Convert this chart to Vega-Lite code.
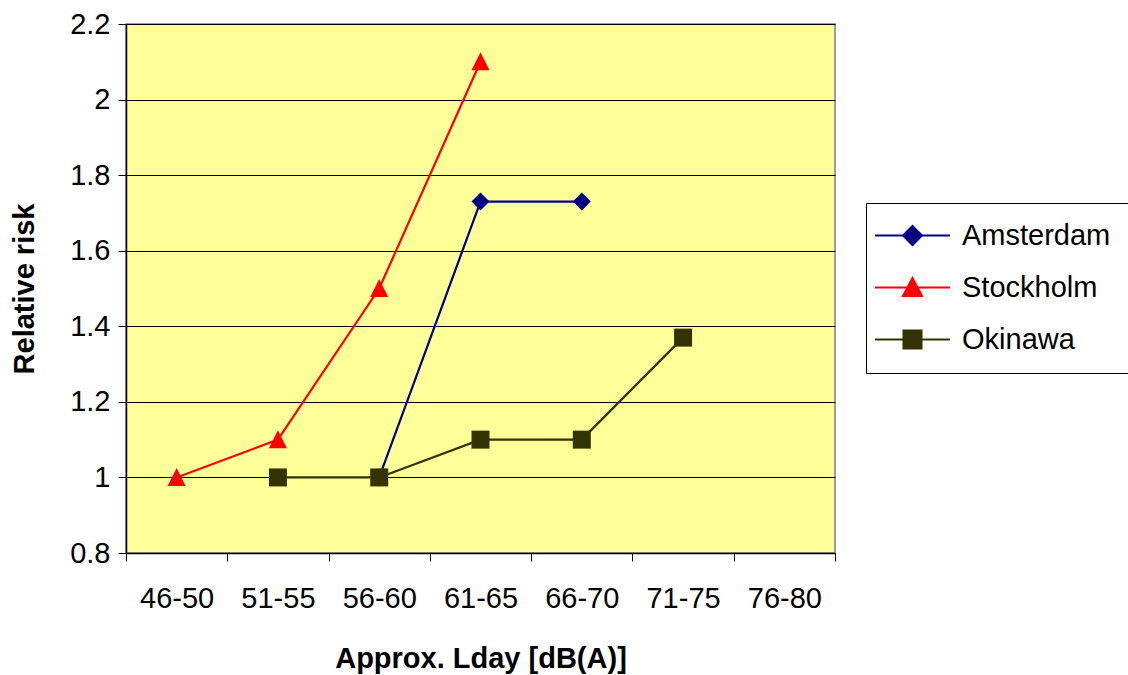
{
  "$schema": "https://vega.github.io/schema/vega-lite/v6.json",
  "width": 709,
  "height": 529,
  "autosize": {"type": "none"},
  "padding": {"left": 126, "top": 24, "right": 293, "bottom": 122},
  "background": "white",
  "config": {
    "font": "Liberation Sans",
    "view": {"fill": "#FFFF99", "stroke": "#808080", "strokeWidth": 1.5}
  },
  "data": {
    "values": [
      {"city": "Amsterdam", "lday": "56-60", "risk": 1.0},
      {"city": "Amsterdam", "lday": "61-65", "risk": 1.73},
      {"city": "Amsterdam", "lday": "66-70", "risk": 1.73},
      {"city": "Stockholm", "lday": "46-50", "risk": 1.0},
      {"city": "Stockholm", "lday": "51-55", "risk": 1.1},
      {"city": "Stockholm", "lday": "56-60", "risk": 1.5},
      {"city": "Stockholm", "lday": "61-65", "risk": 2.1},
      {"city": "Okinawa", "lday": "51-55", "risk": 1.0},
      {"city": "Okinawa", "lday": "56-60", "risk": 1.0},
      {"city": "Okinawa", "lday": "61-65", "risk": 1.1},
      {"city": "Okinawa", "lday": "66-70", "risk": 1.1},
      {"city": "Okinawa", "lday": "71-75", "risk": 1.37}
    ]
  },
  "encoding": {
    "x": {
      "field": "lday",
      "type": "nominal",
      "scale": {
        "type": "band",
        "domain": ["46-50", "51-55", "56-60", "61-65", "66-70", "71-75", "76-80"],
        "paddingInner": 0,
        "paddingOuter": 0
      },
      "axis": {
        "title": "Approx. Lday [dB(A)]",
        "titleFontSize": 29,
        "titleFontWeight": "bold",
        "titleColor": "black",
        "titlePadding": 31,
        "labelFontSize": 29,
        "labelColor": "black",
        "labelAngle": 0,
        "labelPadding": 23,
        "tickBand": "extent",
        "tickSize": 8,
        "tickColor": "black",
        "domainColor": "black",
        "domainWidth": 1.5,
        "grid": false
      }
    },
    "y": {
      "field": "risk",
      "type": "quantitative",
      "scale": {"domain": [0.8, 2.2], "nice": false, "zero": false},
      "axis": {
        "title": "Relative risk",
        "titleFontSize": 29,
        "titleFontWeight": "bold",
        "titleColor": "black",
        "titlePadding": 30,
        "labelFontSize": 29,
        "labelColor": "black",
        "labelPadding": 8,
        "values": [0.8, 1.0, 1.2, 1.4, 1.6, 1.8, 2.0, 2.2],
        "format": ".2~f",
        "tickSize": 8,
        "tickColor": "black",
        "domainColor": "black",
        "domainWidth": 1.5,
        "gridColor": "black",
        "gridOpacity": 1,
        "gridWidth": 1
      }
    }
  },
  "layer": [
    {
      "mark": {"type": "line", "strokeWidth": 2.2},
      "encoding": {
        "color": {
          "field": "city",
          "type": "nominal",
          "scale": {
            "domain": ["Amsterdam", "Stockholm", "Okinawa"],
            "range": ["#000080", "#FF0000", "#333300"]
          },
          "legend": null
        }
      }
    },
    {
      "mark": {"type": "point", "filled": true, "opacity": 1},
      "encoding": {
        "color": {
          "field": "city",
          "type": "nominal",
          "scale": {
            "domain": ["Amsterdam", "Stockholm", "Okinawa"],
            "range": ["#000080", "#FF0000", "#333300"]
          },
          "legend": null
        },
        "shape": {
          "field": "city",
          "type": "nominal",
          "scale": {
            "domain": ["Amsterdam", "Stockholm", "Okinawa"],
            "range": [
              "M0,-1L1,0L0,1L-1,0Z",
              "M0,-1.05L1,0.95L-1,0.95Z",
              "M-1,-1H1V1H-1Z"
            ]
          },
          "legend": null
        },
        "size": {
          "field": "city",
          "type": "nominal",
          "scale": {
            "domain": ["Amsterdam", "Stockholm", "Okinawa"],
            "range": [324, 324, 225]
          },
          "legend": null
        }
      }
    },
    {
      "transform": [{"filter": "false"}],
      "mark": {"type": "point", "filled": true, "opacity": 1, "strokeWidth": 2},
      "encoding": {
        "shape": {
          "field": "city",
          "type": "nominal",
          "title": null,
          "scale": {
            "domain": ["Amsterdam", "Stockholm", "Okinawa"],
            "range": [
              "M-3.75,0H3.75M0,-0.95L0.95,0L0,0.95L-0.95,0Z",
              "M-3.75,0H3.75M0,-0.95L0.95,0.85L-0.95,0.85Z",
              "M-3.75,0H3.75M-0.9,-0.9H0.9V0.9H-0.9Z"
            ]
          },
          "legend": {
            "orient": "none",
            "legendX": 740,
            "legendY": 179,
            "fillColor": "white",
            "strokeColor": "black",
            "padding": 18,
            "rowPadding": 22,
            "symbolSize": 400,
            "symbolStrokeWidth": 2,
            "symbolOffset": 14,
            "labelOffset": 35,
            "labelFontSize": 29,
            "labelColor": "black",
            "labelLimit": 300
          }
        },
        "fill": {
          "field": "city",
          "type": "nominal",
          "title": null,
          "scale": {
            "domain": ["Amsterdam", "Stockholm", "Okinawa"],
            "range": ["#000080", "#FF0000", "#333300"]
          }
        },
        "stroke": {
          "field": "city",
          "type": "nominal",
          "title": null,
          "scale": {
            "domain": ["Amsterdam", "Stockholm", "Okinawa"],
            "range": ["#000080", "#FF0000", "#333300"]
          }
        }
      }
    }
  ],
  "resolve": {
    "scale": {"shape": "independent", "size": "independent", "fill": "independent", "stroke": "independent"},
    "legend": {"shape": "independent", "fill": "independent", "stroke": "independent"}
  }
}
